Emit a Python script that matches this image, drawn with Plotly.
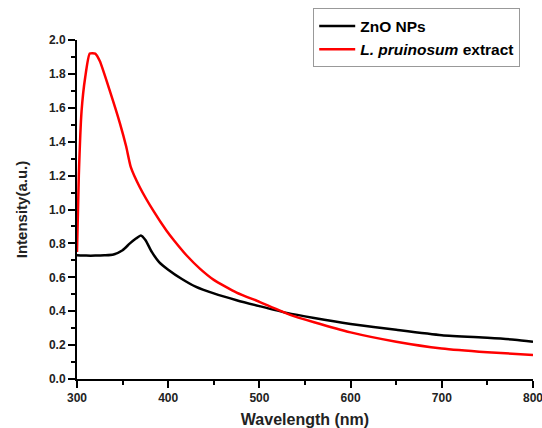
import plotly.graph_objects as go

wl_zno = [300, 310, 320, 330, 340, 350, 358, 365, 370, 375, 382, 390, 400, 415, 430, 450, 475, 500, 530, 560, 600, 650, 700, 750, 780, 800]
int_zno = [0.73, 0.728, 0.728, 0.73, 0.735, 0.76, 0.80, 0.83, 0.847, 0.82, 0.75, 0.69, 0.645, 0.59, 0.545, 0.505, 0.465, 0.43, 0.39, 0.36, 0.325, 0.29, 0.258, 0.243, 0.232, 0.22]

wl_ext = [300, 302, 305, 309, 314, 320, 325, 336, 347, 354, 359, 369, 384, 398, 406, 420, 435, 450, 475, 500, 533, 560, 600, 650, 700, 750, 800]
int_ext = [0.75, 1.2, 1.58, 1.78, 1.92, 1.92, 1.876, 1.70, 1.51, 1.37, 1.25, 1.13, 0.99, 0.876, 0.82, 0.73, 0.65, 0.585, 0.51, 0.455, 0.38, 0.335, 0.275, 0.22, 0.18, 0.158, 0.142]

fig = go.Figure()
fig.add_trace(go.Scatter(x=wl_zno, y=int_zno, mode="lines", name="<b>ZnO NPs</b>",
                         line=dict(color="black", width=2.5, shape="spline", smoothing=0.6)))
fig.add_trace(go.Scatter(x=wl_ext, y=int_ext, mode="lines", name="<b><i>L. pruinosum</i> extract</b>",
                         line=dict(color="#ff0000", width=2.5, shape="spline", smoothing=0.5)))

axis_font = dict(family="Liberation Sans, Arial", size=12, color="#222", weight="bold")
fig.update_layout(
    width=542, height=428,
    margin=dict(l=77, r=9, t=39, b=49),
    paper_bgcolor="white", plot_bgcolor="white",
    showlegend=True,
    legend=dict(x=0.518, y=1.09, xanchor="left", yanchor="top",
                bordercolor="#999", borderwidth=1, bgcolor="white",
                font=dict(family="Liberation Sans, Arial", size=15.5, color="black"),
                tracegroupgap=0, itemwidth=36),
    xaxis=dict(range=[300, 800], showline=True, linecolor="black", linewidth=2,
               ticks="outside", ticklen=7, tickwidth=2, tickcolor="black",
               dtick=100, tick0=300, showgrid=False, zeroline=False, automargin=False,
               tickfont=axis_font, ticklabeloverflow="allow",
               minor=dict(ticks="outside", ticklen=4, tickwidth=1.5, tickcolor="black", dtick=50, showgrid=False),
               title=dict(text="<b>Wavelength (nm)</b>", font=dict(family="Liberation Sans, Arial", size=16, color="#222"), standoff=10)),
    yaxis=dict(range=[0, 2.0], showline=True, linecolor="black", linewidth=2,
               ticks="outside", ticklen=7, tickwidth=2, tickcolor="black",
               dtick=0.2, tickformat=".1f", showgrid=False, zeroline=False, automargin=False,
               tickfont=axis_font, ticklabeloverflow="allow",
               minor=dict(ticks="outside", ticklen=4, tickwidth=1.5, tickcolor="black", dtick=0.1, showgrid=False),
               title=dict(text="<b>Intensity(a.u.)</b>", font=dict(family="Liberation Sans, Arial", size=15, color="#222"), standoff=18)),
)
fig.write_html("out.html")
